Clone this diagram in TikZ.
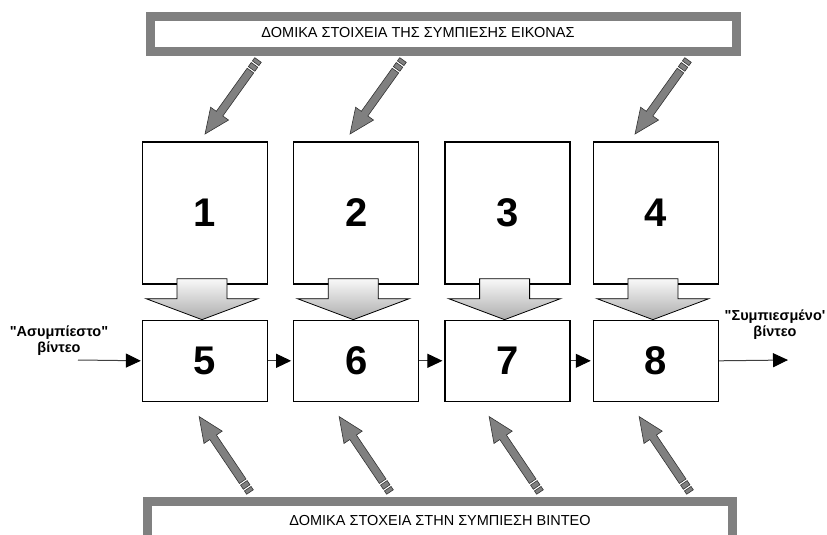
\documentclass[tikz,border=0pt]{standalone}
\usepackage{fontspec}
\newfontfamily\grfont{Liberation Sans}
\usetikzlibrary{arrows.meta,positioning,calc}

\tikzset{
  box/.style={draw, line width=1.3pt, fill=white, minimum width=125pt, inner sep=0pt,
    font=\grfont\fontsize{40}{40}\selectfont\bfseries},
  tallbox/.style={box, minimum height=142pt},
  lowbox/.style={box, minimum height=81pt},
  flow/.style={draw=black!75, line width=1pt, shorten >=2pt,
    -{Triangle[length=15pt,width=14pt,color=black]}},
  banner/.style={draw=gray, line width=9pt},
  lbl/.style={font=\grfont\fontsize{14.5}{16}\selectfont\bfseries, align=center},
  title/.style={font=\grfont\fontsize{14.5}{16}\selectfont},
  pencil/.pic={
    \filldraw[fill=gray, draw=black!80, line width=0.6pt] (0,-4) rectangle (4,4);
    \filldraw[fill=gray, draw=black!80, line width=0.6pt] (6,-4) rectangle (11,4);
    \filldraw[fill=gray, draw=black!80, line width=0.6pt]
      (13,-4) -- (66,-4) -- (66,-11) -- (91,0) -- (66,11) -- (66,4) -- (13,4) -- cycle;
  },
  bigarrow/.pic={
    \path[draw=black, line width=0.8pt, top color=gray!5, bottom color=gray!65]
      (-28,-6) -- (22,-6) -- (22,14) -- (53,14) -- (-3,35) -- (-59,14) -- (-28,14) -- cycle;
  }
}

\begin{document}
\begin{tikzpicture}[x=1pt, y=-1pt]
  \useasboundingbox (0,0) rectangle (827,535);

  % banners
  \draw[banner] (150,16.5) rectangle (736.5,52);
  \node[title] (toptitle) at (418,33) {ΔΟΜΙΚΑ ΣΤΟΙΧΕΙΑ ΤΗΣ ΣΥΜΠΙΕΣΗΣ ΕΙΚΟΝΑΣ};
  \draw[banner] (147,501.5) rectangle (732,545);
  \node[title] (bottitle) at (440,521) {ΔΟΜΙΚΑ ΣΤΟΧΕΙΑ ΣΤΗΝ ΣΥΜΠΙΕΣΗ ΒΙΝΤΕΟ};

  % blocks
  \node[tallbox] (b1) at (205,213) {1};
  \node[tallbox, right=25pt of b1] (b2) {2};
  \node[tallbox, right=25pt of b2] (b3) {3};
  \node[tallbox, right=22pt of b3] (b4) {4};
  \node[lowbox, below=35pt of b1] (b5) {5};
  \node[lowbox, below=35pt of b2] (b6) {6};
  \node[lowbox, below=35pt of b3] (b7) {7};
  \node[lowbox, below=35pt of b4] (b8) {8};

  \foreach \i in {1,...,4}
    \pic at (b\i.south) {bigarrow};

  % video in / out
  \coordinate (src) at (78,360);
  \coordinate (dst) at (790,360);
  \draw[flow, shorten >=1pt] (src) -- (b5.west);
  \draw[flow] (b5.east) -- (b6.west);
  \draw[flow] (b6.east) -- (b7.west);
  \draw[flow] (b7.east) -- (b8.west);
  \draw[flow] (b8.east) -- (dst);
  \node[lbl] (inlbl) at (59,341) {"Ασυμπίεστο"\\βίντεο};
  \node[lbl] (outlbl) at (775,325) {"Συμπιεσμένο'\\βίντεο};

  % pencils
  \foreach \x in {258,403,688}
    \pic[rotate=-125.6] at (\x,60) {pencil};
  \foreach \x in {250,390,540,690}
    \pic[rotate=124] at (\x,492) {pencil};
\end{tikzpicture}
\end{document}
